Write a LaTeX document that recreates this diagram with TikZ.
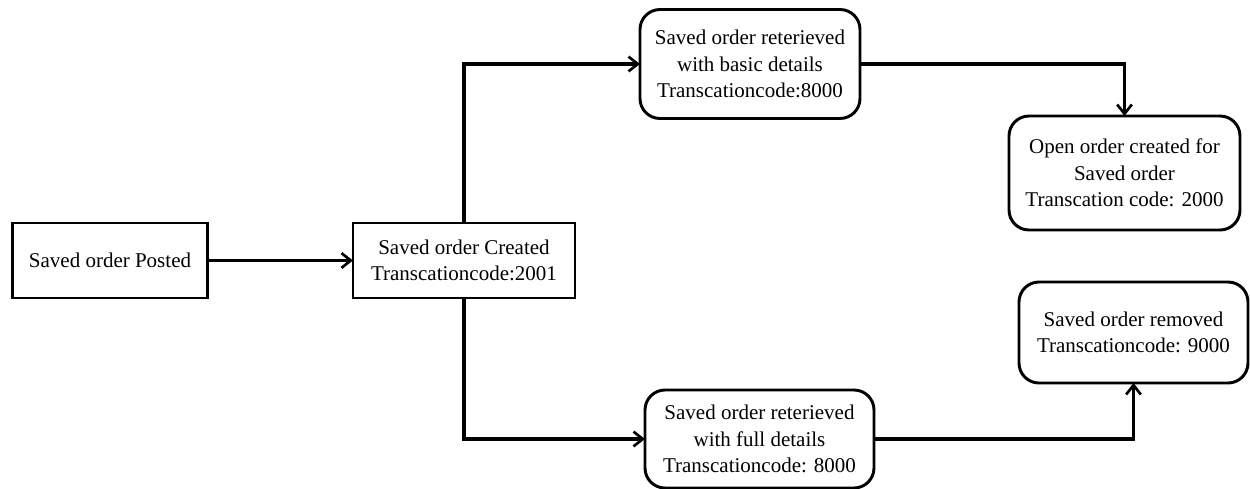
\documentclass[tikz,border=0pt]{standalone}
\usepackage{fontspec}
\setmainfont{Liberation Serif}
\newfontfamily\diagfont{Liberation Serif}
\usetikzlibrary{arrows.meta}
\tikzset{
  every node/.style={inner sep=0pt,outer sep=0pt,align=center,
    font=\diagfont\fontsize{15.75}{20}\selectfont},
  sq/.style={draw,line width=2.2pt},
  rnd/.style={draw,line width=2.2pt,rounded corners=15pt},
  conn/.style={line width=2.4pt,-{Straight Barb[length=7pt,width=11pt,line width=2pt]}}
}
\begin{document}
\begin{tikzpicture}[x=0.75pt,y=-0.75pt]
\useasboundingbox (0,0) rectangle (1250,489);
\node[sq,minimum width=146.25pt,minimum height=56.25pt] (p1) at (110,260.5) {Saved order Posted};
\node[sq,minimum width=166.5pt,minimum height=56.25pt] (p2) at (464,260.5) {Saved order Created\\Transcationcode:2001};
\node[rnd,minimum width=165pt,minimum height=81.75pt] (b3) at (750,64) {Saved order reterieved\\with basic details\\Transcationcode:8000};
\node[rnd,minimum width=173.25pt,minimum height=85.5pt] (b4) at (1124.5,173) {Open order created for\\Saved order\\Transcation code: 2000};
\node[rnd,minimum width=171.75pt,minimum height=75.75pt] (b5) at (1133.5,332.5) {Saved order removed\\Transcationcode: 9000};
\node[rnd,minimum width=171.75pt,minimum height=73.5pt] (b6) at (759.5,439) {Saved order reterieved\\with full details\\Transcationcode: 8000};
\draw[conn] (p1.east) -- (p2.west);
\draw[conn] (p2.north) |- (b3.west);
\draw[conn] (p2.south) |- (b6.west);
\draw[conn] (b3.east) -| (b4.north);
\draw[conn] (b6.east) -| (b5.south);
\end{tikzpicture}
\end{document}
